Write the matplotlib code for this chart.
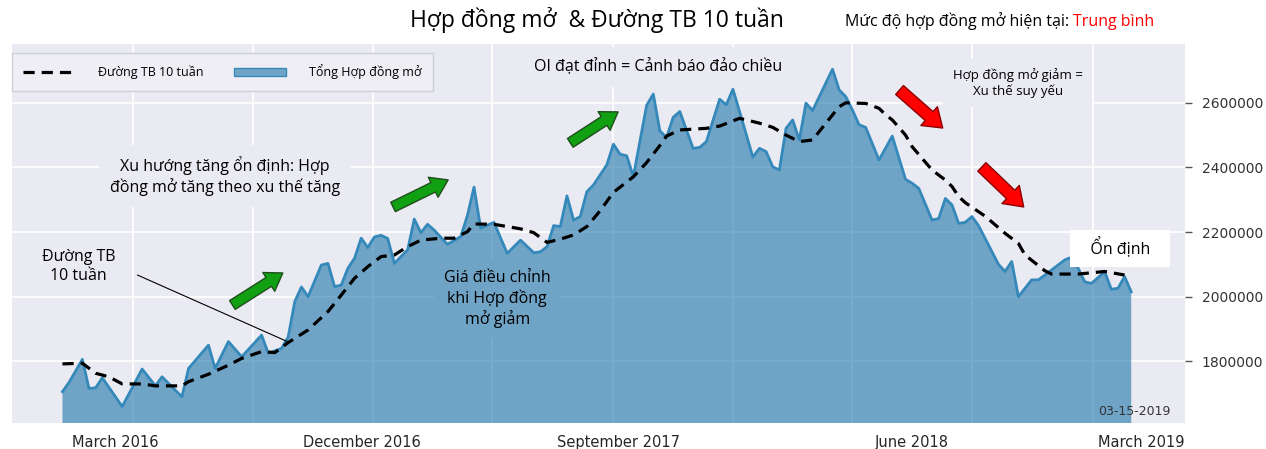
import matplotlib.pyplot as plt
import matplotlib.colors as mcolors
from matplotlib.patches import FancyArrowPatch, Patch
from matplotlib.lines import Line2D

# weekly open interest, week 0 = first report, last week = 03-15-2019
oi_week = [0, 1, 3, 4, 5, 6, 9, 12, 14, 15, 18, 19, 22, 23, 25, 27, 30, 31, 33, 34,
           35, 36, 37, 39, 40, 41, 42, 43, 44, 45, 46, 47, 48, 49, 50, 52, 53, 54, 55,
           56, 58, 60, 61, 62, 63, 65, 67, 69, 71, 72, 73, 74, 75, 76, 77, 78, 79, 80,
           82, 83, 84, 85, 86, 88, 89, 90, 91, 92, 93, 95, 96, 97, 99, 100, 101, 102,
           104, 105, 106, 107, 108, 109, 110, 111, 112, 113, 116, 117, 118, 119, 120,
           121, 123, 125, 127, 128, 129, 131, 132, 133, 134, 135, 136, 137, 138, 140,
           141, 142, 143, 144, 146, 147, 148, 151, 152, 153, 154, 155, 157, 158, 159,
           160, 161]
oi_value = [1706000, 1735000, 1806000, 1716000, 1718000, 1749000, 1660000, 1776000,
            1724000, 1752000, 1690000, 1778000, 1850000, 1778000, 1861000, 1814000,
            1881000, 1825000, 1840000, 1875000, 1985000, 2030000, 2000000, 2098000,
            2103000, 2031000, 2036000, 2088000, 2119000, 2181000, 2152000, 2185000,
            2190000, 2180000, 2103000, 2145000, 2240000, 2198000, 2224000, 2206000,
            2162000, 2186000, 2251000, 2339000, 2212000, 2230000, 2134000, 2175000,
            2136000, 2139000, 2155000, 2220000, 2217000, 2312000, 2237000, 2248000,
            2325000, 2346000, 2408000, 2472000, 2441000, 2436000, 2372000, 2592000,
            2627000, 2513000, 2493000, 2555000, 2573000, 2459000, 2462000, 2480000,
            2611000, 2594000, 2642000, 2573000, 2432000, 2459000, 2449000, 2402000,
            2392000, 2521000, 2547000, 2485000, 2599000, 2576000, 2704000, 2640000,
            2619000, 2578000, 2532000, 2524000, 2423000, 2497000, 2363000, 2351000,
            2335000, 2237000, 2242000, 2304000, 2284000, 2227000, 2230000, 2248000,
            2220000, 2140000, 2100000, 2078000, 2109000, 2000000, 2052000, 2052000,
            2067000, 2114000, 2122000, 2088000, 2046000, 2041000, 2077000, 2023000,
            2026000, 2062000, 2015000]

# 10 week moving average as drawn
ma_week = [0, 3, 5, 7, 9, 12, 14, 18, 19, 22, 25, 27, 30, 32, 34, 37, 40, 42, 44, 46,
           48, 50, 52, 54, 57, 59, 61, 62, 65, 69, 71, 73, 75, 77, 79, 81, 83, 86, 88,
           90, 91, 93, 97, 99, 102, 105, 107, 109, 111, 113, 115, 117, 118, 121, 123,
           124, 125, 126, 127, 128, 129, 131, 133, 134, 135, 136, 139, 142, 144, 145,
           148, 149, 153, 157, 160]
ma_value = [1792000, 1794000, 1763000, 1752000, 1730000, 1730000, 1724000, 1724000,
            1737000, 1760000, 1788000, 1809000, 1830000, 1827000, 1858000, 1897000,
            1954000, 2005000, 2057000, 2093000, 2124000, 2129000, 2155000, 2175000,
            2181000, 2181000, 2201000, 2225000, 2224000, 2210000, 2198000, 2168000,
            2178000, 2191000, 2217000, 2266000, 2323000, 2371000, 2415000, 2468000,
            2497000, 2516000, 2521000, 2528000, 2552000, 2537000, 2524000, 2500000,
            2480000, 2485000, 2537000, 2588000, 2600000, 2598000, 2583000, 2563000,
            2547000, 2524000, 2500000, 2464000, 2440000, 2392000, 2361000, 2341000,
            2310000, 2291000, 2249000, 2196000, 2165000, 2129000, 2080000, 2070000,
            2070000, 2078000, 2067000]

x_labels = ['March 2016', 'December 2016', 'September 2017', 'June 2018', 'March 2019']
x_label_pos = [7.9, 45.1, 83.8, 128.0, 162.5]
x_grid_pos = [10.7, 28.7, 46.8, 64.7, 82.9, 101.0, 118.9, 137.0, 155.2]
y_ticks = [1800000, 2000000, 2200000, 2400000, 2600000]

bg = '#EAEAF2'
fill_col = '#2679AD'
fill_alpha = 0.62
line_col = '#3489BA'
# colour of the translucent fill as it shows on the background
fill_seen = tuple(fill_alpha * a + (1 - fill_alpha) * b
                  for a, b in zip(mcolors.to_rgb(fill_col), mcolors.to_rgb(bg)))

plt.rcParams['font.family'] = ['Open Sans', 'DejaVu Sans']

fig = plt.figure(figsize=(12.66, 4.49), dpi=100)
ax = fig.add_axes([12 / 1266, 26.3 / 449, 1173 / 1266, 378.7 / 449])
ax.set_facecolor(bg)
for s in ax.spines.values():
    s.set_visible(False)

ax.fill_between(oi_week, oi_value, 0, color=fill_col, alpha=fill_alpha, lw=0, zorder=1)
ax.plot(oi_week, oi_value, color=line_col, lw=2, zorder=2)
ax.plot(ma_week, ma_value, color='black', lw=2.3, dashes=(3.5, 2.2), zorder=3)

ax.set_xlim(-7.6, 169.1)
ax.set_ylim(1610000, 2782000)

# axes and grid
ax.set_axisbelow(True)
ax.yaxis.tick_right()
ax.set_yticks(y_ticks, [str(v) for v in y_ticks])
ax.set_xticks(x_label_pos, x_labels)
ax.set_xticks(x_grid_pos, minor=True)
ax.tick_params(axis='y', length=5, width=1, color='#555555', labelsize=10,
               labelcolor='#333333', pad=7)
ax.tick_params(axis='x', which='both', length=0, labelsize=10.5, labelcolor='#262626', pad=9)
for lab in ax.get_xticklabels() + ax.get_yticklabels():
    lab.set_family('DejaVu Sans')
ax.grid(which='minor', axis='x', color='white', lw=1.3)
ax.grid(which='major', axis='y', color='white', lw=1.3)

# legend
handles = [Line2D([], [], color='black', lw=2.3, dashes=(3.5, 2.2)),
           Patch(facecolor=fill_seen, edgecolor=line_col, lw=1)]
ax.legend(handles, ['Đường TB 10 tuần', 'Tổng Hợp đồng mở'], ncol=2, loc='upper left',
          bbox_to_anchor=(0, 0.976), borderaxespad=0, fontsize=9, handlelength=4.2,
          handletextpad=1.8, columnspacing=2.4, borderpad=0.9, frameon=True,
          facecolor='#EEEEF4', edgecolor='#CFCFD6', fancybox=False, framealpha=1)

# headers
fig.text(597 / 1266, 1 - 20 / 449, 'Hợp đồng mở  & Đường TB 10 tuần', ha='center',
         va='center', fontsize=16.5)
t1 = fig.text(845 / 1266, 1 - 21 / 449, 'Mức độ hợp đồng mở hiện tại: ', ha='left',
              va='center', fontsize=11.5)
ax.annotate('Trung bình', xy=(1, 0), xycoords=t1, ha='left', va='bottom', fontsize=11.5,
            color='red')

# annotations
box_bg = dict(boxstyle='square,pad=0.7', fc=bg, ec='none')
ax.text(24.5, 2373700, 'Xu hướng tăng ổn định: Hợp\nđồng mở tăng theo xu thế tăng',
        ha='center', va='center', fontsize=11.5, linespacing=1.25, bbox=box_bg, zorder=4)
ax.text(2.4, 2092000, 'Đường TB\n10 tuần', ha='center', va='center', fontsize=11.5,
        linespacing=1.25, bbox=box_bg, zorder=4)
ax.annotate('', xy=(34, 1860000), xytext=(11.3, 2067000),
            arrowprops=dict(arrowstyle='-', lw=0.8, color='black', shrinkA=0, shrinkB=0),
            zorder=5)
ax.text(65.5, 1993000, 'Giá điều chỉnh\nkhi Hợp đồng\nmở giảm', ha='center', va='center',
        fontsize=11.5, linespacing=1.25, zorder=4,
        bbox=dict(boxstyle='square,pad=0.6', fc=fill_seen, ec='none'))
ax.text(89.7, 2711000, 'OI đạt đỉnh = Cảnh báo đảo chiều', ha='center', va='center',
        fontsize=11.5, bbox=box_bg, zorder=4)
ax.text(143.9, 2661000, 'Hợp đồng mở giảm =\nXu thế suy yếu', ha='center', va='center',
        fontsize=9.5, linespacing=1.25, bbox=box_bg, zorder=4)
ax.text(159.3, 2150000, '   Ổn định   ', ha='center', va='center', fontsize=11.5,
        zorder=4, bbox=dict(boxstyle='square,pad=0.5', fc='white', ec='none'))
ax.text(0.988, 0.012, '03-15-2019', transform=ax.transAxes, ha='right', va='bottom',
        fontsize=9, color='#333333', family='DejaVu Sans', zorder=4)

# trend arrows: (x0, y0, x1, y1, face, edge, size)
arrows = [(25.6, 1974300, 33.2, 2073400, '#11A011', '#1E4D1E', 'g'),
          (49.8, 2277700, 58.1, 2361300, '#11A011', '#1E4D1E', 'g'),
          (76.5, 2476000, 83.7, 2571800, '#11A011', '#1E4D1E', 'g'),
          (126.1, 2639600, 132.6, 2522000, '#FF0000', '#8B0000', 'r'),
          (138.5, 2401600, 144.8, 2277700, '#FF0000', '#8B0000', 'r')]
styles = {'g': 'simple,head_length=12,head_width=16,tail_width=7.5',
          'r': 'simple,head_length=13,head_width=18,tail_width=8.5'}
for x0, y0, x1, y1, fc, ec, k in arrows:
    ax.add_patch(FancyArrowPatch((x0, y0), (x1, y1), arrowstyle=styles[k], mutation_scale=1,
                                 fc=fc, ec=ec, lw=1, shrinkA=0, shrinkB=0, zorder=6))

fig.savefig('out.png', dpi=100)
